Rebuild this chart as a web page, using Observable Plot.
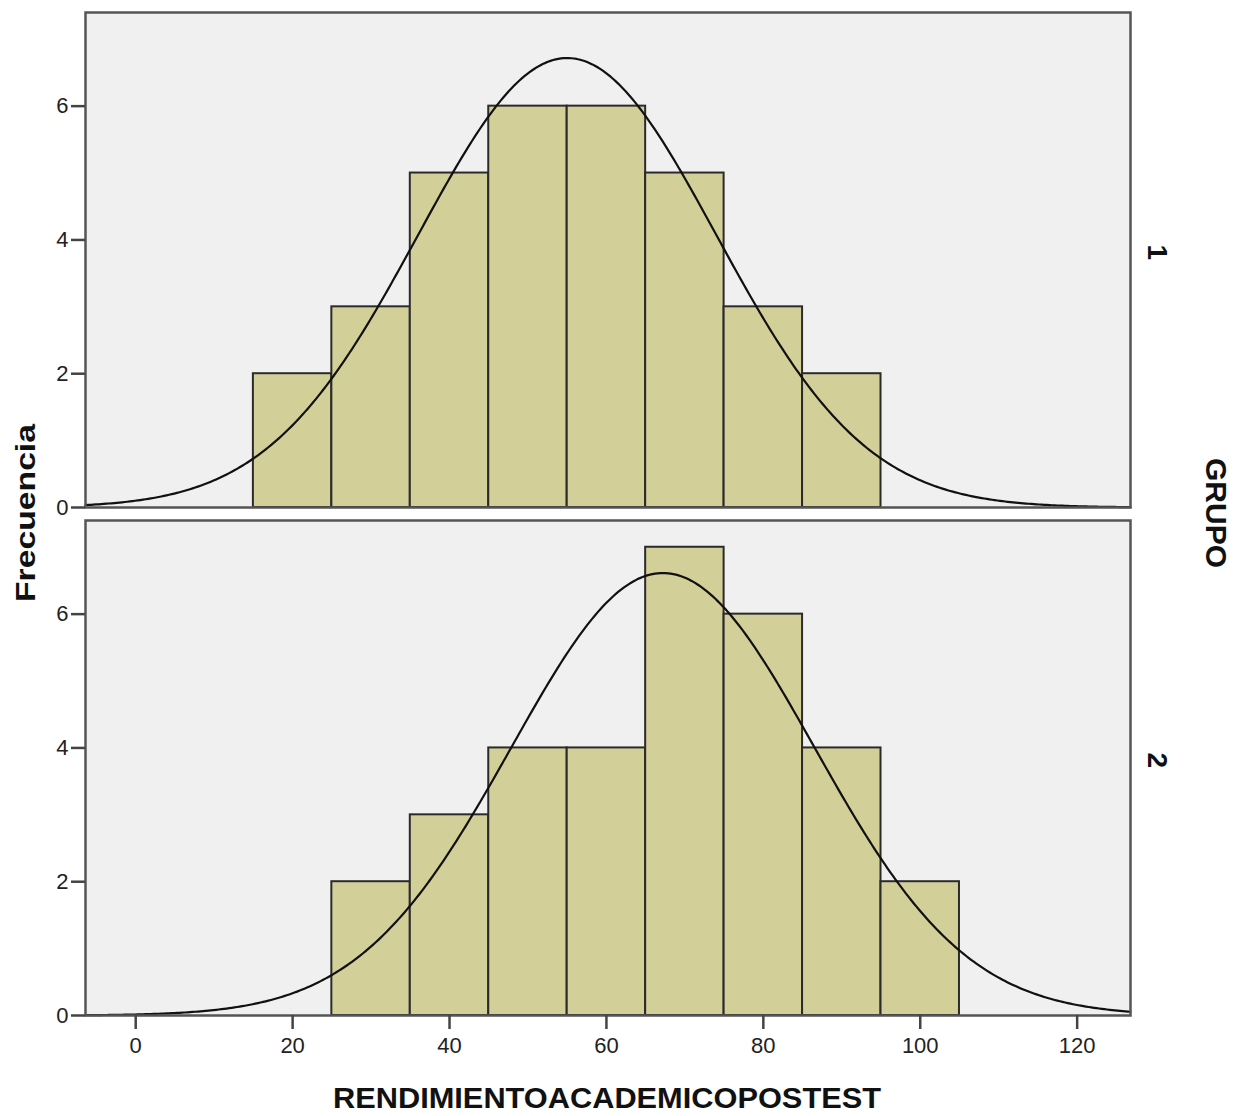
<!DOCTYPE html>
<html>
<head>
<meta charset="utf-8">
<script src="https://cdn.jsdelivr.net/npm/d3@7"></script>
<script src="https://cdn.jsdelivr.net/npm/@observablehq/plot@0.6"></script>
<style>
  html, body { margin: 0; padding: 0; background: white; }
  #chart { width: 1241px; height: 1116px; }
</style>
</head>
<body>
<div id="chart"></div>
<script>
// ---- Data ----
const groups = ["1", "2"];
const binWidth = 10;
const binStarts1 = [15, 25, 35, 45, 55, 65, 75, 85];
const counts1    = [2, 3, 5, 6, 6, 5, 3, 2];
const binStarts2 = [25, 35, 45, 55, 65, 75, 85, 95];
const counts2    = [2, 3, 4, 4, 7, 6, 4, 2];
// fitted normal curve parameters per group (mean, sd, n)
const means = [55, 67.2];
const sds   = [19.0, 19.3];
const ns    = [32, 32];
const xTicks = [0, 20, 40, 60, 80, 100, 120];
const yTicks = [0, 2, 4, 6];
const xDomain = [-6.4, 126.8];
const yDomain = [0, 7.4];

// ---- Build tables ----
const bars = [
  ...binStarts1.map((s, i) => ({grupo: groups[0], x1: s, x2: s + binWidth, y: counts1[i]})),
  ...binStarts2.map((s, i) => ({grupo: groups[1], x1: s, x2: s + binWidth, y: counts2[i]}))
];
const curve = [];
groups.forEach((g, gi) => {
  const m = means[gi], s = sds[gi], n = ns[gi];
  const steps = 400;
  for (let k = 0; k <= steps; k++) {
    const x = xDomain[0] + (xDomain[1] - xDomain[0]) * k / steps;
    const y = n * binWidth / (s * Math.sqrt(2 * Math.PI)) * Math.exp(-0.5 * ((x - m) / s) ** 2);
    curve.push({grupo: g, x, y});
  }
});
const facetLabels = groups.map(g => ({grupo: g}));

const chart = Plot.plot({
  width: 1241,
  height: 1116,
  marginLeft: 85,
  marginRight: 111,
  marginTop: 11,
  marginBottom: 101,
  style: {fontFamily: "'Liberation Sans', Arial, sans-serif", fontSize: "22px", background: "white", color: "#222"},
  x: {domain: xDomain, label: null},
  y: {domain: yDomain, label: null},
  fy: {domain: groups, axis: null, label: null, paddingInner: 0.0256, paddingOuter: 0},
  marks: [
    Plot.frame({fill: "#f0f0f0", stroke: "none"}),
    Plot.rectY(bars, {x1: "x1", x2: "x2", y: "y", fy: "grupo", fill: "#d3cf98", stroke: "#2b2b2b", strokeWidth: 2}),
    Plot.line(curve, {x: "x", y: "y", fy: "grupo", stroke: "#111", strokeWidth: 2.2, curve: "linear"}),
    Plot.frame({stroke: "#555", strokeWidth: 2.5}),
    Plot.axisY({ticks: yTicks, tickSize: 14, tickPadding: 3, tickFormat: d => d, stroke: "#444", strokeWidth: 2.5, fill: "#222", fontSize: 22, label: null}),
    Plot.axisX({ticks: xTicks, tickSize: 14, tickPadding: 8, tickFormat: d => d, stroke: "#444", strokeWidth: 2.5, fill: "#222", fontSize: 22, label: null}),
    Plot.text(facetLabels, {fy: "grupo", text: "grupo", frameAnchor: "right", dx: 26, rotate: 90, fontSize: 28, fontWeight: "bold", fill: "#111"})
  ]
});

document.getElementById("chart").appendChild(chart);

// Axis titles
const svg = d3.select(chart);
svg.append("text")
  .attr("x", 607).attr("y", 1108)
  .attr("text-anchor", "middle")
  .attr("font-size", 29).attr("font-weight", "bold")
  .attr("font-family", "'Liberation Sans', Arial, sans-serif")
  .attr("fill", "#111")
  .attr("textLength", 548).attr("lengthAdjust", "spacingAndGlyphs")
  .text("RENDIMIENTOACADEMICOPOSTEST");
svg.append("text")
  .attr("transform", "translate(35,513) rotate(-90)")
  .attr("text-anchor", "middle")
  .attr("font-size", 28).attr("font-weight", "bold")
  .attr("font-family", "'Liberation Sans', Arial, sans-serif")
  .attr("fill", "#111")
  .attr("textLength", 178).attr("lengthAdjust", "spacingAndGlyphs")
  .text("Frecuencia");
svg.append("text")
  .attr("transform", "translate(1206,513) rotate(90)")
  .attr("text-anchor", "middle")
  .attr("font-size", 30).attr("font-weight", "bold")
  .attr("font-family", "'Liberation Sans', Arial, sans-serif")
  .attr("fill", "#111")
  .text("GRUPO");
</script>
</body>
</html>
